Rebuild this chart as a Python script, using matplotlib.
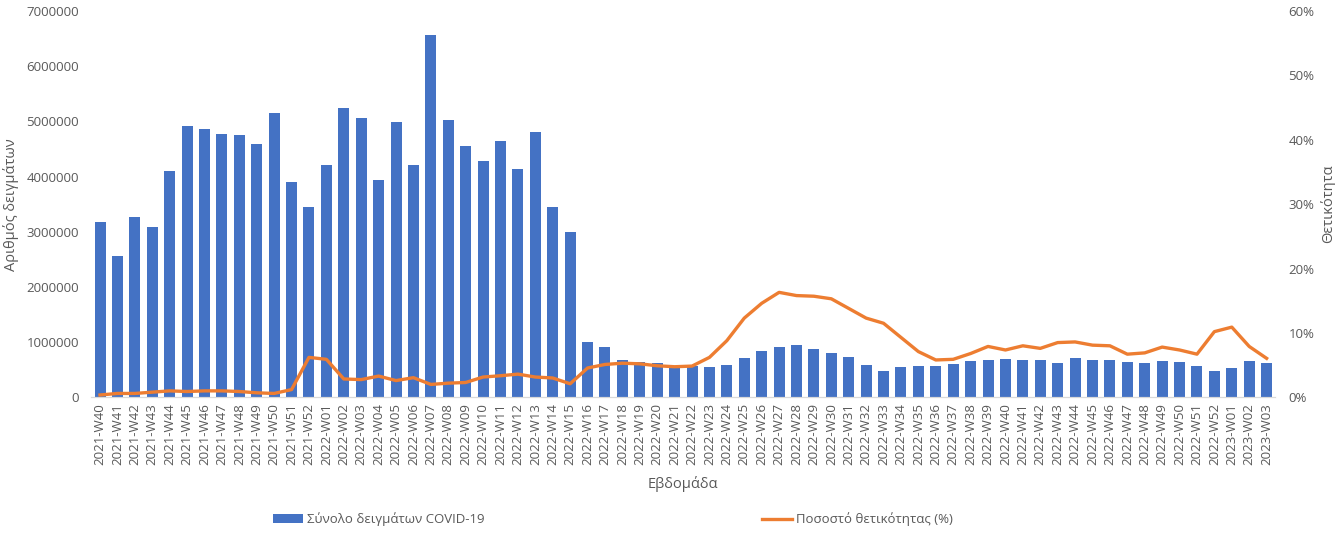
import matplotlib.pyplot as plt
from matplotlib.ticker import FuncFormatter, MultipleLocator

plt.rcParams['font.family'] = ['Open Sans', 'DejaVu Sans']

# weeks 2021-W40 .. 2023-W03
weeks = ([f'2021-W{w:02d}' for w in range(40, 53)]
         + [f'2022-W{w:02d}' for w in range(1, 53)]
         + [f'2023-W{w:02d}' for w in range(1, 4)])

# total COVID-19 samples per week
samples = [
    3170000, 2555000, 3270000, 3090000, 4100000, 4910000, 4860000, 4780000,
    4750000, 4590000, 5150000, 3900000, 3440000,
    4210000, 5250000, 5060000, 3930000, 4980000, 4210000, 6560000, 5020000,
    4550000, 4290000, 4640000, 4130000, 4800000, 3450000, 3000000, 1000000,
    920000, 670000, 640000, 615000, 560000, 570000, 550000, 585000,
    710000, 845000, 910000, 950000, 870000, 800000, 725000, 585000,
    480000, 550000, 570000, 570000, 600000, 660000, 680000, 690000,
    680000, 680000, 630000, 710000, 680000, 670000, 640000, 615000,
    660000, 645000, 570000, 480000,
    530000, 660000, 615000,
]

# positivity rate (%)
positivity = [
    0.36, 0.6, 0.6, 0.8, 1.0, 0.9, 1.0, 1.0, 0.9, 0.7, 0.6, 1.2, 6.2,
    5.9, 2.85, 2.75, 3.3, 2.6, 3.05, 2.0, 2.2, 2.3, 3.15, 3.35, 3.6,
    3.15, 3.0, 2.1, 4.55, 5.1, 5.3, 5.2, 4.9, 4.75, 4.85, 6.2, 8.8,
    12.3, 14.6, 16.3, 15.8, 15.7, 15.3, 13.8, 12.3, 11.5, 9.3, 7.1, 5.8,
    5.9, 6.8, 7.9, 7.35, 8.0, 7.6, 8.5, 8.6, 8.1, 8.0, 6.7, 6.9,
    7.8, 7.35, 6.7, 10.2,
    10.9, 7.9, 6.05,
]

grey = '#595959'
fig = plt.figure(figsize=(13.35, 5.41), dpi=100)
ax = fig.add_axes([0.0684, 0.2656, 0.8869, 0.7141])
ax2 = ax.twinx()

x = range(len(weeks))
bars = ax.bar(x, samples, width=0.63, color='#4472C4',
              label='Σύνολο δειγμάτων COVID-19')
line, = ax2.plot(x, positivity, color='#ED7D31', lw=2.4,
                 label='Ποσοστό θετικότητας (%)')

ax.set_xlim(-0.5, len(weeks) - 0.5)
ax.set_ylim(0, 7000000)
ax.yaxis.set_major_locator(MultipleLocator(1000000))
ax.yaxis.set_major_formatter(FuncFormatter(lambda v, p: f'{v:.0f}'))
ax2.set_ylim(0, 60)
ax2.yaxis.set_major_locator(MultipleLocator(10))
ax2.yaxis.set_major_formatter(FuncFormatter(lambda v, p: f'{v:.0f}%'))

ax.set_xticks(list(x))
ax.set_xticklabels(weeks, rotation=90)

for a in (ax, ax2):
    for s in ('top', 'left', 'right'):
        a.spines[s].set_visible(False)
    a.spines['bottom'].set_color('#D9D9D9')
    a.tick_params(length=0, colors=grey, labelsize=9.5)
ax.tick_params(axis='x', pad=4)
ax.tick_params(axis='y', pad=9)
ax2.tick_params(axis='y', pad=9.5)

ax.set_xlabel('Εβδομάδα', color=grey, fontsize=10.5, labelpad=8)
ax.set_ylabel('Αριθμός δειγμάτων', color=grey, fontsize=10.5, labelpad=5)
ax2.set_ylabel('Θετικότητα', color=grey, fontsize=10.5, rotation=90, labelpad=4)

leg = fig.legend([bars, line], [bars.get_label(), line.get_label()],
                 loc='center', bbox_to_anchor=(0.459, 0.04), ncol=2,
                 frameon=False, fontsize=9.5, columnspacing=21,
                 handlelength=2.3, handletextpad=0.3, labelcolor=grey)

fig.savefig('out.png', dpi=100)
